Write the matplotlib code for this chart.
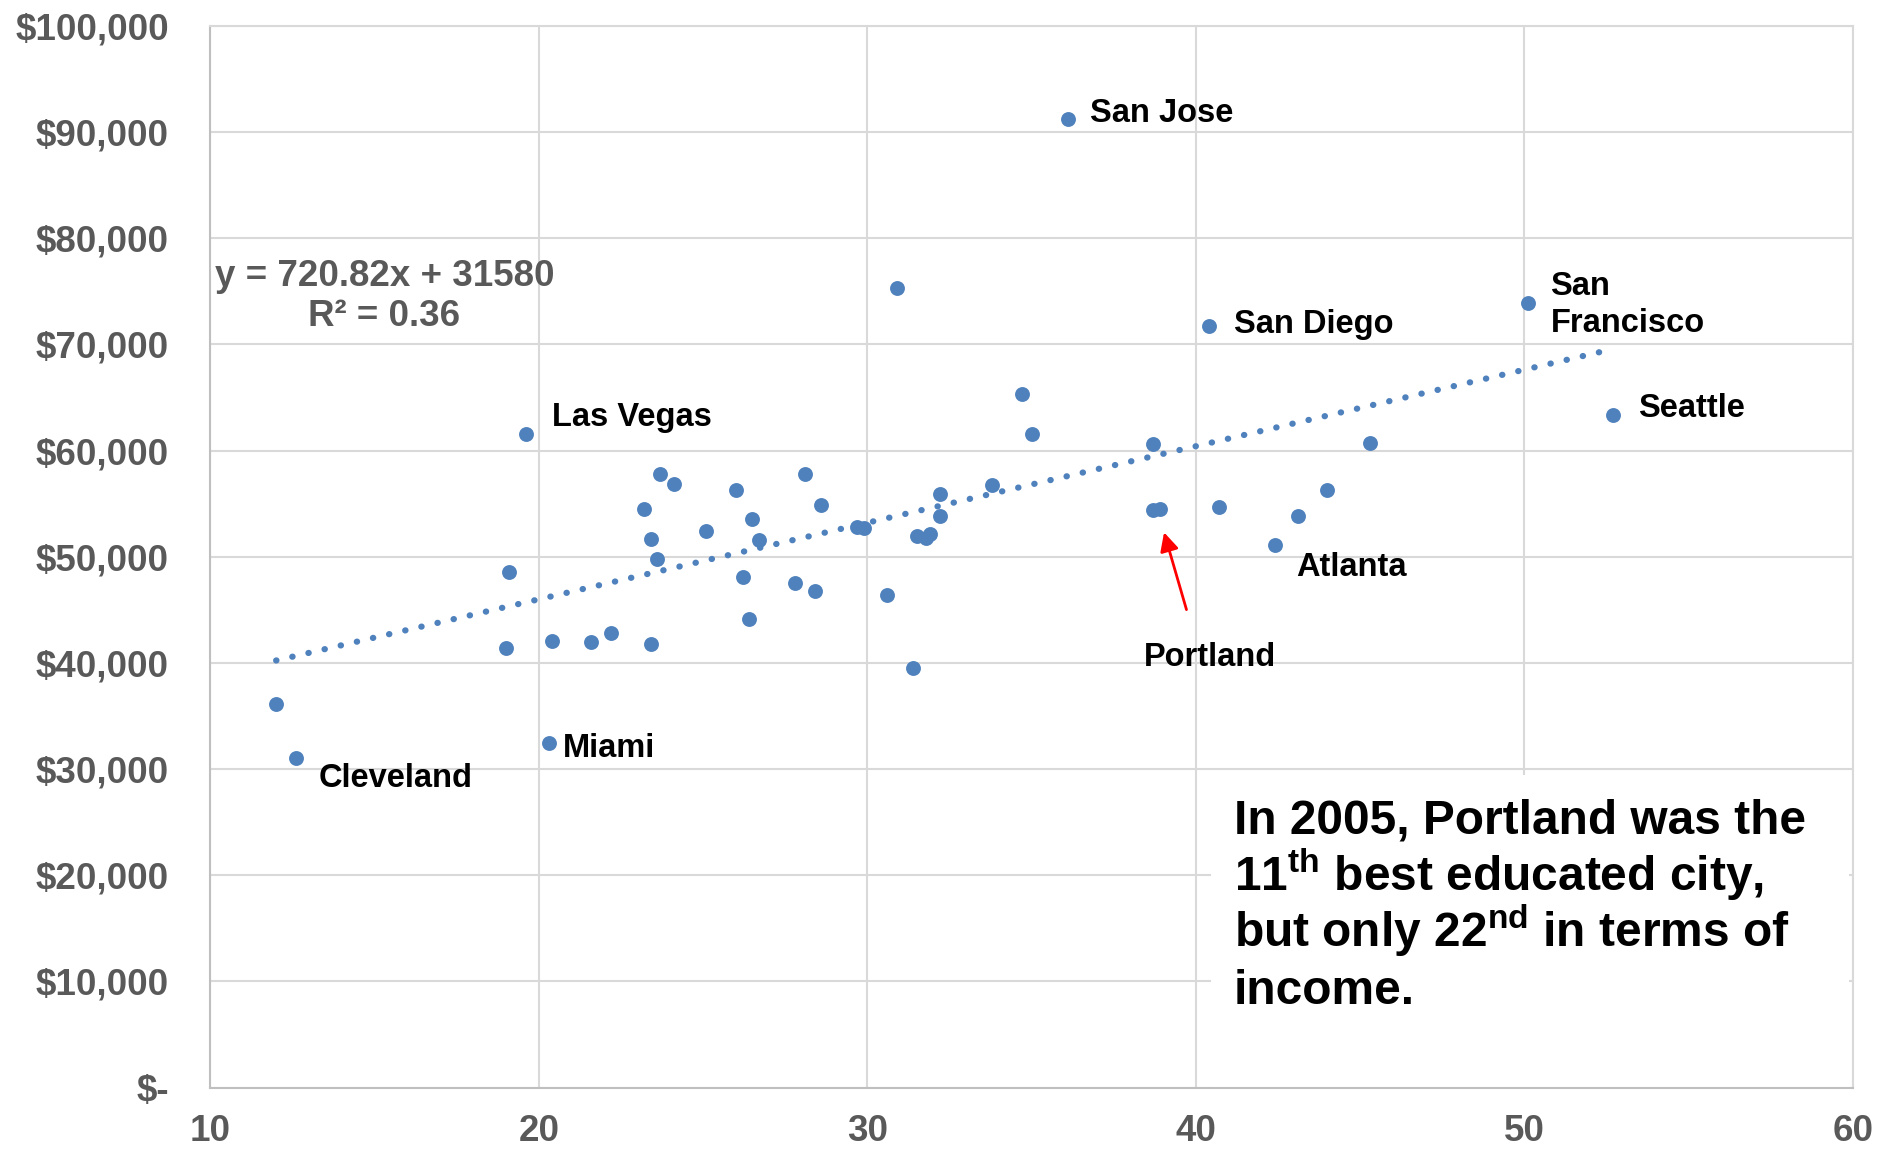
import numpy as np
import matplotlib
matplotlib.use('Agg')
import matplotlib.pyplot as plt
from matplotlib.patches import Rectangle
from matplotlib.ticker import FuncFormatter

plt.rcParams['font.family'] = ['Liberation Sans', 'DejaVu Sans']
plt.rcParams['font.weight'] = 'bold'
plt.rcParams['mathtext.fontset'] = 'custom'
plt.rcParams['mathtext.rm'] = 'Liberation Sans:bold'
plt.rcParams['mathtext.bf'] = 'Liberation Sans:bold'

# share of adults with a degree (%) vs median household income ($)
education = [12.0, 12.6, 19.0, 19.1, 19.6, 20.3, 20.4, 21.6, 22.2, 23.4,
             23.2, 23.4, 23.6, 23.7, 24.1, 25.1, 26.0, 26.2, 26.4, 26.5,
             26.7, 27.8, 28.1, 28.4, 28.6, 29.7, 29.9, 30.6, 30.9, 31.4,
             31.5, 31.8, 31.9, 32.2, 32.2, 33.8, 34.7, 35.0, 36.1, 38.7,
             38.7, 38.9, 40.4, 40.7, 42.4, 43.1, 44.0, 45.3, 50.1, 52.7]
income = [36100, 31000, 41400, 48600, 61600, 32500, 42100, 42000, 42800, 41800,
          54500, 51700, 49800, 57800, 56900, 52400, 56300, 48100, 44100, 53600,
          51600, 47500, 57800, 46800, 54900, 52800, 52700, 46400, 75300, 39500,
          52000, 51800, 52100, 55900, 53800, 56800, 65300, 61600, 91200, 60600,
          54400, 54500, 71700, 54700, 51100, 53800, 56300, 60700, 73900, 63400]

city_names = ['San Jose', 'San Diego', 'San\nFrancisco', 'Seattle', 'Las Vegas',
              'Atlanta', 'Portland', 'Miami', 'Cleveland']
label_x = [36.79, 41.17, 50.80, 53.47, 20.40, 43.07, 38.43, 20.73, 13.28]
label_y = [91800, 71900, 73700, 64000, 63100, 49000, 40500, 31950, 29100]

trend_slope = 720.82
trend_icept = 31580
trend_r2 = 0.36

note_lines = ['In 2005, Portland was the',
              r'11$^{\mathrm{th}}$ best educated city,',
              r'but only 22$^{\mathrm{nd}}$ in terms of',
              'income.']

blue = '#4F81BD'
gray = '#595959'

fig = plt.figure(figsize=(18.79, 11.5), dpi=100)
ax = fig.add_axes([0.1120, 0.0543, 0.8740, 0.9231])

ax.scatter(education, income, s=115, color=blue, zorder=3, linewidths=0)

tx = np.array([min(education), max(education)])
ax.plot(tx, trend_slope * tx + trend_icept, color=blue, lw=4.5,
        linestyle=(0, (0.05, 2.6)), dash_capstyle='round', zorder=2)

ax.text(15.30, 74500, 'y = %.2fx + %d\nR² = %.2f' % (trend_slope, trend_icept, trend_r2),
        ha='center', va='center', fontsize=26.5, color=gray, linespacing=1.2, zorder=4)

for name, lx, ly in zip(city_names, label_x, label_y):
    ax.text(lx, ly, name, ha='left', va='center', fontsize=23.5, color='black',
            linespacing=1.25, zorder=4)

ax.annotate('', xy=(39.01, 52550), xytext=(39.74, 44770),
            arrowprops=dict(arrowstyle='-|>', color='red', lw=2, mutation_scale=28))

# white note box covering the grid in the lower right
ax.add_patch(Rectangle((40.45, 0), 19.45, 29400, facecolor='white',
                       edgecolor='none', zorder=1.5))
for i, line in enumerate(note_lines):
    ax.text(41.15, 23900 - i * 5340, line, ha='left', va='baseline',
            fontsize=34.5, color='black', zorder=4)

ax.set_xlim(10, 60)
ax.set_ylim(0, 100000)
ax.set_xticks(range(10, 61, 10))
ax.set_yticks(range(0, 100001, 10000))
ax.yaxis.set_major_formatter(FuncFormatter(lambda v, p: '$-' if v == 0 else '${:,.0f}'.format(v)))
ax.tick_params(axis='both', length=0, labelsize=26.5, labelcolor=gray)
ax.tick_params(axis='y', pad=30)
ax.tick_params(axis='x', pad=19)
ax.grid(True, color='#D9D9D9', lw=1.5, zorder=0)
ax.set_axisbelow(True)
for side in ['top', 'right']:
    ax.spines[side].set_color('#D9D9D9')
    ax.spines[side].set_linewidth(1.5)
for side in ['left', 'bottom']:
    ax.spines[side].set_color('#BFBFBF')
    ax.spines[side].set_linewidth(1.5)

fig.savefig('out.png', dpi=100)
